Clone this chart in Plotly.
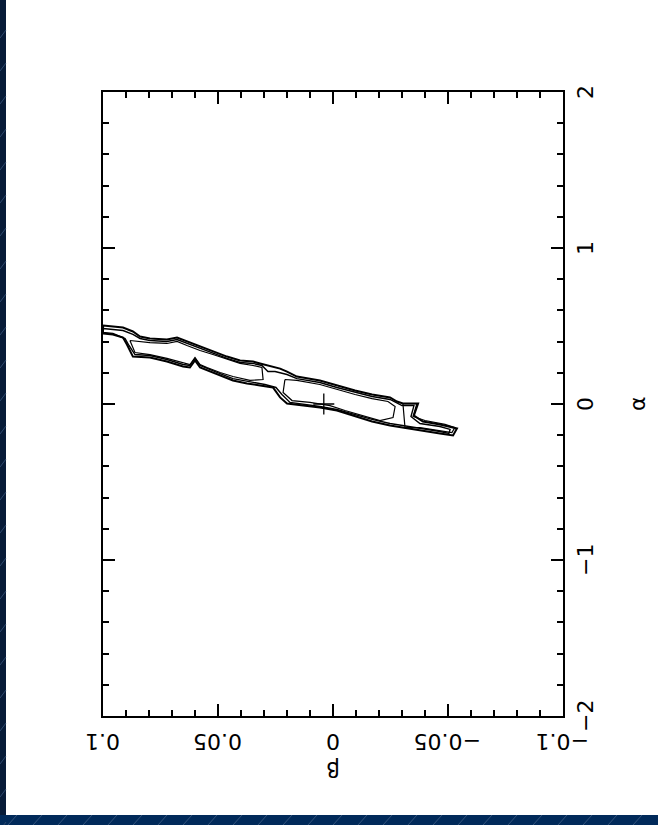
import plotly.graph_objects as go

# ---------------- data (beta on the horizontal axis, alpha on the vertical) ----------------
beta_ticks = [0.1, 0.05, 0.0, -0.05, -0.1]
beta_tick_text = ["0.1", "0.05", "0", "\u22120.05", "\u22120.1"]
alpha_ticks = [-2, -1, 0, 1, 2]
alpha_tick_text = ["\u22122", "\u22121", "0", "1", "2"]

# outer confidence contour
contour_a_beta = [0.1000, 0.0957, 0.0913, 0.0870, 0.0839, 0.0796, 0.0722, 0.0678, 0.0635, 0.0578,
                  0.0522, 0.0461, 0.0404, 0.0348, 0.0317, 0.0261, 0.0230, 0.0200, 0.0157, 0.0057,
                  -0.0017, -0.0096, -0.0170, -0.0248, -0.0278, -0.0304, -0.0370, -0.0352, -0.0391, -0.0465,
                  -0.0539, -0.0522,
                  -0.0465, -0.0391, -0.0304, -0.0248, -0.0170, -0.0096, -0.0017, 0.0057, 0.0157, 0.0200,
                  0.0230, 0.0261, 0.0317, 0.0374, 0.0435, 0.0491, 0.0548, 0.0578, 0.0600, 0.0622,
                  0.0652, 0.0722, 0.0796, 0.0870, 0.0896, 0.0913, 0.0957, 0.1000]
contour_a_alpha = [0.503, 0.497, 0.490, 0.465, 0.433, 0.420, 0.413, 0.426, 0.401, 0.369,
                   0.337, 0.304, 0.279, 0.272, 0.260, 0.240, 0.227, 0.208, 0.176, 0.151,
                   0.119, 0.087, 0.061, 0.042, 0.016, 0.003, 0.003, -0.074, -0.112, -0.131,
                   -0.157, -0.202,
                   -0.189, -0.170, -0.151, -0.138, -0.112, -0.080, -0.042, -0.022, -0.003, 0.003,
                   0.042, 0.106, 0.119, 0.131, 0.151, 0.183, 0.215, 0.234, 0.279, 0.234,
                   0.240, 0.272, 0.298, 0.304, 0.381, 0.426, 0.446, 0.452]

# middle contour
contour_b_beta = [0.1000, 0.0957, 0.0913, 0.0870, 0.0839, 0.0796, 0.0722, 0.0678, 0.0635, 0.0578,
                  0.0522, 0.0461, 0.0404, 0.0348, 0.0309, 0.0283, 0.0252, 0.0200, 0.0157, 0.0057,
                  -0.0017, -0.0096, -0.0170, -0.0248, -0.0283, -0.0300, -0.0352, -0.0339, -0.0378, -0.0465,
                  -0.0509, -0.0504, -0.0465, -0.0378, -0.0313, -0.0248, -0.0170, -0.0096, -0.0017, 0.0057,
                  0.0157, 0.0187, 0.0222, 0.0248, 0.0296, 0.0374, 0.0435, 0.0491, 0.0548, 0.0578,
                  0.0600, 0.0622, 0.0652, 0.0722, 0.0796, 0.0861, 0.0887, 0.0904, 0.0957, 0.1000]
contour_b_alpha = [0.484, 0.478, 0.471, 0.446, 0.420, 0.407, 0.401, 0.413, 0.388, 0.356,
                   0.324, 0.292, 0.266, 0.260, 0.247, 0.208, 0.208, 0.189, 0.163, 0.138,
                   0.106, 0.074, 0.048, 0.029, 0.003, -0.010, -0.010, -0.080, -0.125, -0.144,
                   -0.163, -0.189, -0.176, -0.157, -0.144, -0.125, -0.099, -0.067, -0.035, -0.016,
                   0.003, 0.010, 0.061, 0.106, 0.125, 0.144, 0.163, 0.195, 0.227, 0.247,
                   0.292, 0.247, 0.253, 0.285, 0.311, 0.317, 0.375, 0.420, 0.452, 0.458]

# inner contour, upper island
contour_c_beta = [0.0883, 0.0796, 0.0722, 0.0678, 0.0635, 0.0578, 0.0522, 0.0461, 0.0404, 0.0348,
                  0.0309, 0.0304, 0.0361, 0.0435, 0.0491, 0.0548, 0.0578, 0.0600, 0.0622, 0.0722,
                  0.0796, 0.0861]
contour_c_alpha = [0.407, 0.394, 0.388, 0.401, 0.375, 0.343, 0.317, 0.285, 0.260, 0.247,
                   0.234, 0.157, 0.151, 0.176, 0.202, 0.234, 0.253, 0.298, 0.253, 0.292,
                   0.317, 0.330]

# inner contour, lower island
contour_d_beta = [0.0209, 0.0157, 0.0057, -0.0017, -0.0096, -0.0170, -0.0239, -0.0270, -0.0261, -0.0204,
                  -0.0126, -0.0052, 0.0013, 0.0100, 0.0178, 0.0217]
contour_d_alpha = [0.157, 0.151, 0.125, 0.093, 0.061, 0.035, 0.016, -0.016, -0.087, -0.106,
                   -0.074, -0.042, -0.010, 0.010, 0.022, 0.074]

# inner contour, tail
contour_e_beta = [-0.0304, -0.0365, -0.0348, -0.0400, -0.0487, -0.0530, -0.0517, -0.0465, -0.0378, -0.0313]
contour_e_alpha = [0.003, 0.003, -0.080, -0.106, -0.131, -0.151, -0.183, -0.170, -0.151, -0.151]

best_beta = [0.004]
best_alpha = [0.0]

contours = [
    (contour_a_beta, contour_a_alpha, 2.0),
    (contour_b_beta, contour_b_alpha, 1.4),
    (contour_c_beta, contour_c_alpha, 1.2),
    (contour_d_beta, contour_d_alpha, 1.2),
    (contour_e_beta, contour_e_alpha, 1.2),
]

# ---------------- figure ----------------
fig = go.Figure()
for cb, ca, w in contours:
    fig.add_trace(go.Scatter(
        x=list(cb) + [cb[0]], y=list(ca) + [ca[0]],
        mode="lines", line=dict(color="black", width=w),
        hoverinfo="skip", showlegend=False, cliponaxis=True,
    ))

fig.add_trace(go.Scatter(
    x=best_beta, y=best_alpha, mode="markers",
    marker=dict(symbol="cross-thin", size=15, line=dict(color="black", width=1.3)),
    showlegend=False, hoverinfo="skip",
))

FONT = "DejaVu Sans"
FS = 22
axis_common = dict(
    showgrid=False, zeroline=False, showline=True, linecolor="black", linewidth=2,
    mirror="allticks", ticks="inside", ticklen=12, tickwidth=2, tickcolor="black",
    showticklabels=False,
)
fig.update_xaxes(range=[0.1, -0.1], tickmode="linear", tick0=0, dtick=0.05,
                 minor=dict(ticks="inside", ticklen=6, tickwidth=2, tickcolor="black",
                            tick0=0, dtick=0.01, showgrid=False),
                 **axis_common)
fig.update_yaxes(range=[-2, 2], tickmode="linear", tick0=0, dtick=1,
                 minor=dict(ticks="inside", ticklen=6, tickwidth=2, tickcolor="black",
                            tick0=0, dtick=0.2, showgrid=False),
                 **axis_common)

annotations = []
for v, t in zip(beta_ticks, beta_tick_text):
    annotations.append(dict(x=v, xref="x", y=0, yref="paper", yshift=-26, text=t,
                            textangle=180, showarrow=False, xanchor="center", yanchor="middle",
                            font=dict(family=FONT, size=FS, color="black")))
for v, t in zip(alpha_ticks, alpha_tick_text):
    annotations.append(dict(x=1, xref="paper", xshift=22, y=v, yref="y", text=t,
                            textangle=-90, showarrow=False, xanchor="center", yanchor="middle",
                            font=dict(family=FONT, size=FS, color="black")))
annotations.append(dict(x=1, xref="paper", xshift=74, y=0, yref="y", text="\u03b1",
                        textangle=-90, showarrow=False, xanchor="center", yanchor="middle",
                        font=dict(family=FONT, size=FS, color="black")))
annotations.append(dict(x=0, xref="x", y=0, yref="paper", yshift=-54, text="\u03b2",
                        textangle=180, showarrow=False, xanchor="center", yanchor="middle",
                        font=dict(family=FONT, size=FS, color="black")))

# decorative dark page border (left strip and bottom band)
W, H = 658, 825
L, R, T, B = 103, 95, 92, 109
pw, ph = W - L - R, H - T - B
def px(xp):
    return (xp - L) / pw
def py(yp):
    return (H - B - yp) / ph

shapes = [
    dict(type="rect", xref="paper", yref="paper", x0=px(-5), x1=px(6), y0=py(H + 5), y1=py(-5),
         fillcolor="#071b38", line=dict(width=0), layer="above"),
    dict(type="rect", xref="paper", yref="paper", x0=px(-5), x1=px(W + 5), y0=py(H + 5), y1=py(815),
         fillcolor="#012a5a", line=dict(width=0), layer="above"),
]
for k in range(0, 30):
    x0 = 8 + 25 * k
    shapes.append(dict(type="line", xref="paper", yref="paper", x0=px(x0), y0=py(825), x1=px(x0 + 9),
                       y1=py(815), line=dict(color="#35557d", width=1), layer="above"))
for k in range(0, 26):
    y0 = 30 + 33 * k
    shapes.append(dict(type="line", xref="paper", yref="paper", x0=px(0), y0=py(y0 + 8), x1=px(6),
                       y1=py(y0), line=dict(color="#2f4a6e", width=1), layer="above"))

fig.update_layout(
    width=W, height=H, margin=dict(l=L, r=R, t=T, b=B, pad=0),
    paper_bgcolor="white", plot_bgcolor="white",
    annotations=annotations, shapes=shapes, showlegend=False,
)

fig.write_html("out.html", config={"displayModeBar": False},
               post_script="document.body.style.margin='0';document.body.style.overflow='hidden';")
